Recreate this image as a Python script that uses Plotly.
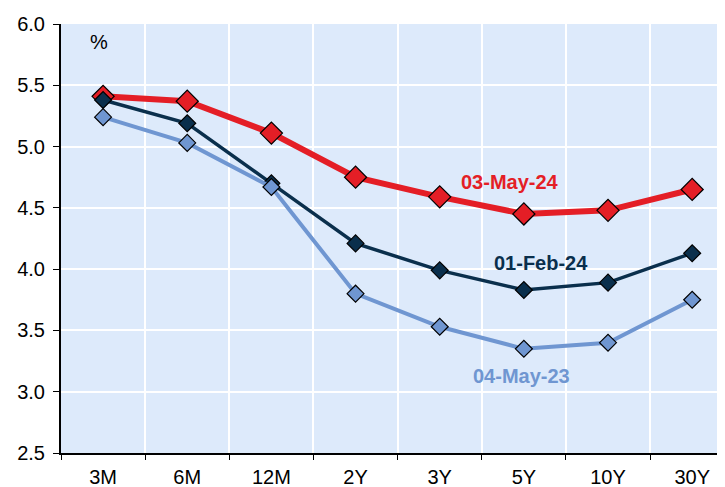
import plotly.graph_objects as go

tenors = ['3M', '6M', '12M', '2Y', '3Y', '5Y', '10Y', '30Y']
may24 = [5.41, 5.37, 5.11, 4.75, 4.59, 4.45, 4.48, 4.65]
feb24 = [5.38, 5.19, 4.70, 4.21, 3.99, 3.83, 3.89, 4.13]
may23 = [5.24, 5.03, 4.67, 3.80, 3.53, 3.35, 3.40, 3.75]

FONT = 'Liberation Sans, Arial'
RED = '#E41E26'
NAVY = '#0A2F4C'
LIGHT = '#6F96D1'

fig = go.Figure()

fig.add_trace(go.Scatter(x=tenors, y=may24, mode='lines+markers', name='03-May-24',
                         line=dict(color=RED, width=6),
                         marker=dict(symbol='diamond', size=17, color=RED, line=dict(color='black', width=1.2))))
fig.add_trace(go.Scatter(x=tenors, y=feb24, mode='lines+markers', name='01-Feb-24',
                         line=dict(color=NAVY, width=3.5),
                         marker=dict(symbol='diamond', size=13, color=NAVY, line=dict(color='black', width=1.2))))
fig.add_trace(go.Scatter(x=tenors, y=may23, mode='lines+markers', name='04-May-23',
                         line=dict(color=LIGHT, width=4),
                         marker=dict(symbol='diamond', size=13, color=LIGHT, line=dict(color='black', width=1.2))))

# series labels
fig.add_annotation(x=4.83, y=4.71, text='<b>03-May-24</b>', showarrow=False,
                   font=dict(family=FONT, size=20, color=RED))
fig.add_annotation(x=5.2, y=4.05, text='<b>01-Feb-24</b>', showarrow=False,
                   font=dict(family=FONT, size=20, color=NAVY))
fig.add_annotation(x=4.97, y=3.13, text='<b>04-May-23</b>', showarrow=False,
                   font=dict(family=FONT, size=20, color=LIGHT))
fig.add_annotation(x=-0.05, y=5.85, text='%', showarrow=False,
                   font=dict(family=FONT, size=20, color='black'))

fig.update_xaxes(range=[-0.5, 7.39], tickson='boundaries', ticks='outside', ticklen=5,
                 tickcolor='black', showline=True, linecolor='black', linewidth=2,
                 showgrid=True, gridcolor='white', gridwidth=2, automargin=False,
                 ticklabelstandoff=5,
                 tickfont=dict(family=FONT, size=20, color='black'))
fig.update_yaxes(range=[2.5, 6.0], dtick=0.5, tickformat='.1f', ticks='outside', ticklen=6,
                 tickcolor='black', showline=True, linecolor='black', linewidth=2,
                 showgrid=True, gridcolor='white', gridwidth=2, zeroline=False, automargin=False,
                 ticklabelstandoff=4,
                 tickfont=dict(family=FONT, size=20, color='black'))

# the page body keeps its default 8px margin, so the figure is shrunk by that much
fig.update_layout(width=717, height=479, showlegend=False,
                  margin=dict(l=53, r=0, t=16, b=34),
                  plot_bgcolor='#DDEAFB', paper_bgcolor='white')

fig.write_html("out.html")
